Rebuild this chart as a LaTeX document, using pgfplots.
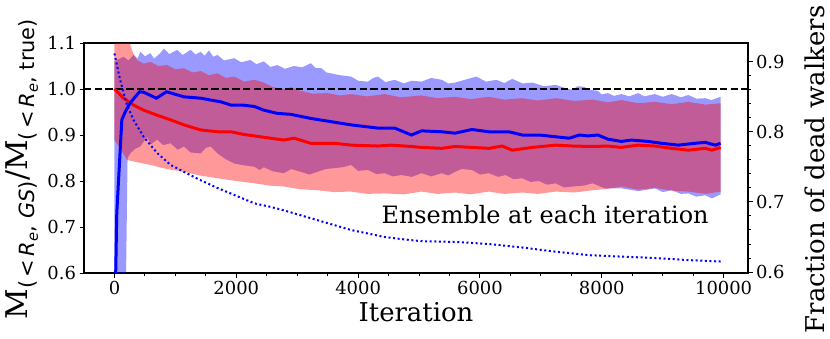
\documentclass[border=0pt]{standalone}
\usepackage{fontspec}
\setmainfont{DejaVu Serif}
\newfontfamily\dvsans{DejaVu Sans}
\usepackage{pgfplots}
\pgfplotsset{compat=1.18}
\usepgfplotslibrary{fillbetween}

\pgfplotsset{
  base/.style={
    width=664bp, height=230bp, scale only axis,
    at={(0,0)}, anchor=south west,
    xmin=-500, xmax=10400,
    tick align=outside,
    major tick length=4.5bp, minor tick length=2.5bp,
    every tick/.style={black, line width=1bp},
    axis line style={line width=1.5bp, -},
    tick label style={font=\fontsize{18}{20}\selectfont},
    /pgf/number format/assume math mode=true,
    label style={font=\fontsize{26}{30}\selectfont},
  }
}

\begin{document}
\begin{tikzpicture}
\begin{axis}[base,
  ymin=0.6, ymax=1.1,
  xtick={0,2000,4000,6000,8000,10000}, minor x tick num=3,
  scaled x ticks=false,
  ytick={0.6,0.7,0.8,0.9,1.0,1.1},
  xtick pos=left, ytick pos=left,
  x tick label style={/pgf/number format/1000 sep={}},
  y tick label style={/pgf/number format/fixed, /pgf/number format/fixed zerofill, /pgf/number format/precision=1},
  xlabel={Iteration},
  xlabel style={at={(axis description cs:0.5,-0.213)}, anchor=base},
  ylabel={M\textsubscript{\dvsans(\,\textless\,\textit{R}\textsubscript{\textit{e}}, \textit{GS})}/M\textsubscript{\dvsans(\,\textless\,\textit{R}\textsubscript{\textit{e}}, true)}},
  ylabel style={at={(axis description cs:-0.0934,0.452)}, anchor=center, font=\fontsize{30}{33}\selectfont},
]
% blue band
\addplot[name path=bu, draw=none] coordinates {
(0,1.06) (150,1.07) (230,1.062) (314,1.074) (380,1.066) (424,1.081) (500,1.071) (590,1.078)
(650,1.066) (700,1.072) (760,1.079) (810,1.088) (900,1.076) (1030,1.085) (1120,1.074)
(1250,1.085) (1330,1.075) (1416,1.081) (1480,1.072) (1550,1.084) (1620,1.07) (1691,1.074)
(1800,1.062) (1967,1.067) (2080,1.058) (2231,1.063) (2330,1.054) (2452,1.06) (2560,1.048)
(2672,1.052) (2800,1.044) (2948,1.05) (3080,1.047) (3223,1.056) (3300,1.046) (3400,1.045)
(3480,1.036) (3554,1.034) (3700,1.030) (3884,1.027) (4000,1.018) (4160,1.016) (4250,1.024)
(4325,1.027) (4450,1.015) (4600,1.02) (4750,1.012) (4876,1.018) (5041,1.016) (5200,1.024)
(5372,1.02) (5480,1.012) (5592,1.014) (5750,1.02) (5940,1.027) (6100,1.016) (6270,1.02)
(6400,1.013) (6530,1.022) (6700,1.012) (6860,1.014) (7050,1.006) (7245,1.009) (7400,1.002)
(7521,0.998) (7600,1.006) (7700,1.005) (7820,0.998) (7934,0.996) (8000,0.988) (8099,0.991)
(8200,0.985) (8320,0.989) (8450,0.984) (8595,0.991) (8700,0.984) (8871,0.989) (9000,0.983)
(9146,0.989) (9300,0.982) (9421,0.987) (9550,0.979) (9697,0.980) (9800,0.976) (9950,0.983)};
\addplot[name path=bl, draw=none] coordinates {
(0,0.40) (100,0.48) (190,0.59) (215,0.85) (259,0.86) (340,0.87) (424,0.875) (534,0.896)
(600,0.88) (700,0.89) (800,0.878) (920,0.882) (1040,0.868) (1140,0.875) (1250,0.862)
(1416,0.86) (1500,0.872) (1581,0.875) (1691,0.86) (1820,0.848) (1967,0.838) (2130,0.834)
(2298,0.831) (2380,0.824) (2452,0.83) (2600,0.821) (2782,0.817) (2900,0.826) (3058,0.82)
(3200,0.814) (3333,0.82) (3470,0.826) (3609,0.828) (3750,0.83) (3884,0.835) (4000,0.822)
(4160,0.824) (4300,0.815) (4435,0.817) (4570,0.81) (4710,0.813) (4880,0.809) (5041,0.817)
(5200,0.81) (5372,0.817) (5480,0.812) (5592,0.82) (5700,0.826) (5868,0.824) (6000,0.814)
(6143,0.817) (6300,0.809) (6419,0.813) (6550,0.804) (6694,0.806) (6830,0.798) (6970,0.80)
(7100,0.792) (7245,0.795) (7380,0.786) (7521,0.788) (7700,0.79) (7851,0.795) (8050,0.784)
(8320,0.784) (8600,0.778) (8871,0.784) (9000,0.776) (9146,0.780) (9300,0.772) (9421,0.773)
(9550,0.766) (9697,0.769) (9807,0.762) (9950,0.771)};
\addplot[fill=blue, fill opacity=0.4, draw=none] fill between[of=bu and bl];
% red band
\addplot[name path=ru, draw=none] coordinates {
(0,1.15) (200,1.12) (300,1.08) (369,1.063) (480,1.055) (590,1.059) (720,1.05) (865,1.052)
(1000,1.043) (1140,1.045) (1280,1.036) (1416,1.039) (1550,1.03) (1691,1.034) (1830,1.024)
(1967,1.027) (2130,1.016) (2298,1.02) (2452,1.014) (2600,1.004) (2782,1.0) (2900,1.004)
(3058,0.996) (3250,0.99) (3500,0.991) (3700,0.986) (3884,0.989) (4150,0.984) (4435,0.989)
(4700,0.982) (5041,0.986) (5300,0.98) (5592,0.983) (5850,0.978) (6143,0.983) (6400,0.977)
(6694,0.980) (6950,0.975) (7245,0.980) (7550,0.974) (7851,0.977) (8100,0.971) (8320,0.976)
(8600,0.969) (8871,0.972) (9150,0.967) (9421,0.972) (9700,0.966) (9950,0.969)};
\addplot[name path=rl, draw=none] coordinates {
(0,0.889) (100,0.87) (204,0.846) (400,0.84) (590,0.835) (860,0.826) (1140,0.820) (1400,0.812)
(1691,0.806) (2000,0.8) (2298,0.795) (2550,0.79) (2782,0.788) (3050,0.782) (3333,0.780)
(3600,0.776) (3884,0.777) (4150,0.772) (4435,0.773) (4750,0.771) (5041,0.777) (5300,0.772)
(5592,0.775) (5850,0.771) (6143,0.777) (6400,0.772) (6694,0.775) (6950,0.772) (7245,0.777)
(7550,0.775) (7851,0.780) (8100,0.783) (8320,0.788) (8600,0.781) (8871,0.785) (9150,0.779)
(9421,0.777) (9700,0.772) (9950,0.777)};
\addplot[fill=red, fill opacity=0.4, draw=none] fill between[of=ru and rl];
% reference line
\addplot[black, line width=2bp, dash pattern=on 7.4bp off 3.2bp] coordinates {(-500,1) (10400,1)};
% red median
\addplot[red, line width=3bp] coordinates {
(0,1.0) (149,0.98) (314,0.965) (479,0.954) (700,0.943) (920,0.933) (1140,0.922) (1416,0.911)
(1691,0.907) (1912,0.907) (2132,0.901) (2298,0.898) (2562,0.893) (2782,0.889) (2948,0.893)
(3223,0.882) (3609,0.882) (3884,0.878) (4325,0.876) (4545,0.878) (4876,0.875) (5041,0.873)
(5372,0.871) (5592,0.875) (5868,0.873) (6143,0.871) (6364,0.876) (6529,0.867) (6860,0.873)
(7245,0.878) (7521,0.876) (7851,0.875) (8099,0.876) (8320,0.873) (8595,0.878) (8871,0.876)
(9146,0.871) (9421,0.867) (9697,0.871) (9807,0.867) (9950,0.873)};
% blue median
\addplot[blue, line width=3bp] coordinates {
(0,0.45) (38,0.73) (121,0.933) (176,0.95) (259,0.97) (413,0.994) (479,0.993) (689,0.98)
(854,0.994) (1140,0.983) (1416,0.98) (1581,0.976) (1750,0.972) (1912,0.965) (2100,0.965)
(2298,0.962) (2452,0.954) (2672,0.947) (2893,0.945) (3223,0.936) (3554,0.929) (3884,0.922)
(4325,0.915) (4600,0.915) (4876,0.9) (5041,0.909) (5372,0.907) (5592,0.904) (5868,0.912)
(6143,0.907) (6474,0.907) (6694,0.9) (6970,0.9) (7466,0.893) (7631,0.9) (7769,0.898)
(7934,0.9) (8099,0.891) (8320,0.886) (8485,0.889) (8760,0.886) (8981,0.882) (9256,0.878)
(9532,0.882) (9697,0.884) (9862,0.878) (9950,0.882)};
\node[anchor=base east, font=\fontsize{24}{28}\selectfont] at (axis description cs:0.946,0.217) {Ensemble at each iteration};
\end{axis}

\begin{axis}[base,
  ymin=0.5986, ymax=0.927,
  axis y line*=right, axis x line=none,
  ytick={0.6,0.7,0.8,0.9}, minor y tick num=4,
  y tick label style={/pgf/number format/fixed, /pgf/number format/fixed zerofill, /pgf/number format/precision=1},
  ylabel={Fraction of dead walkers},
  ylabel style={at={(axis description cs:1.101,0.45)}, anchor=center, rotate=0},
]
\addplot[blue, line width=2bp, dash pattern=on 2bp off 2.6bp] coordinates {
(0,0.912) (94,0.874) (204,0.839) (314,0.817) (479,0.793) (700,0.770) (920,0.753) (1140,0.743)
(1416,0.731) (1691,0.720) (1967,0.710) (2298,0.698) (2562,0.693) (2782,0.688) (3058,0.681)
(3333,0.674) (3609,0.667) (3884,0.66) (4160,0.655) (4435,0.65) (4710,0.647) (5041,0.644)
(5592,0.643) (6143,0.640) (6694,0.635) (7245,0.629) (7796,0.624) (8320,0.622) (8871,0.620)
(9421,0.617) (9950,0.615)};
\end{axis}
\pgfresetboundingbox
\path[use as bounding box] (-84bp,-66bp) rectangle (746bp,273bp);
\end{tikzpicture}
\end{document}
